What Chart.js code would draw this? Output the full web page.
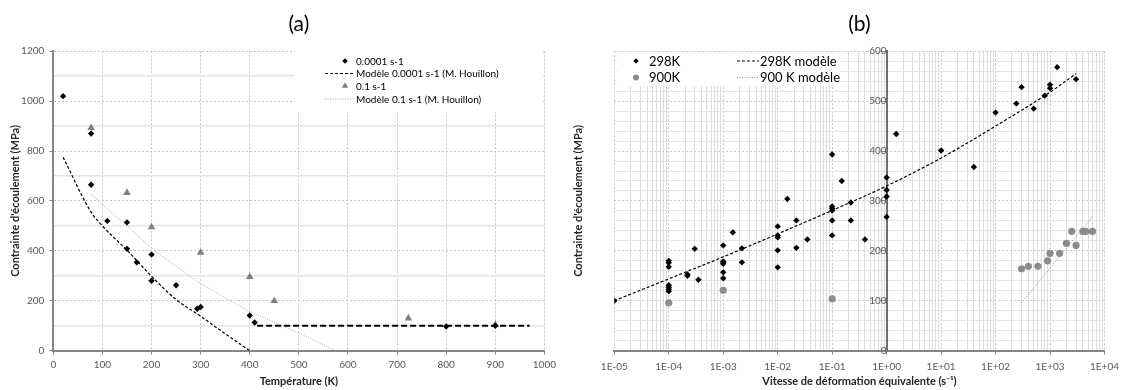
<!DOCTYPE html>
<html><head><meta charset="utf-8">
<script src="https://cdn.jsdelivr.net/npm/chart.js@4.4.1/dist/chart.umd.min.js"></script>
<style>
html,body{margin:0;padding:0;background:#fff;}
#wrap{position:relative;width:1125px;height:390px;overflow:hidden;}
#ca{position:absolute;left:0;top:0;width:560px;height:390px;}
#cb{position:absolute;left:560px;top:0;width:565px;height:390px;}
</style></head><body>
<div id="wrap"><div id="ca"><canvas id="a"></canvas></div><div id="cb"><canvas id="b"></canvas></div></div>
<script>
// ---------- Chart (a) data ----------
const tempLow = [20, 77, 77, 110, 150, 150, 170, 200, 200, 250, 293, 300, 400, 410, 800, 900];
const stressLow = [1020, 870, 665, 520, 514, 408, 354, 385, 280, 262, 168, 175, 141, 113, 97, 100];
const tempHigh = [77, 150, 200, 300, 400, 450, 723, 900];
const stressHigh = [893, 633, 495, 393, 296, 200, 130, 104];
const modelLowT = [20, 77, 100, 125, 150, 175, 200, 250, 300, 350, 400];
const modelLowS = [775, 555, 500, 450, 403, 350, 298, 205, 138, 68, 0];
const plateauT = [415, 970];
const plateauS = [100, 100];
const modelHighT = [76, 100, 150, 200, 250, 300, 350, 400, 450, 500, 575];
const modelHighS = [628, 586, 500, 412, 338, 270, 212, 158, 114, 70, 0];

// ---------- Chart (b) data ----------
const rate298 = [1e-5,
  1e-4, 1e-4, 1e-4, 1e-4, 1e-4, 1e-4, 1e-4, 2.2e-4, 2.2e-4, 3e-4, 3.5e-4,
  1e-3, 1e-3, 1e-3, 1e-3, 1e-3, 1e-3, 1.5e-3, 2.2e-3, 2.2e-3,
  1e-2, 1e-2, 1e-2, 1e-2, 1e-2, 1.5e-2, 2.2e-2, 2.2e-2, 3.5e-2,
  0.1, 0.1, 0.1, 0.1, 0.1, 0.1, 0.15, 0.22, 0.22, 0.4,
  1, 1, 1, 1, 1.5, 10, 40, 100, 240, 300, 500, 800, 1000, 1000, 1350, 3000];
const stress298 = [100,
  180, 176, 168, 131, 127, 123, 119, 153, 150, 204, 142,
  211, 179, 177, 174, 157, 145, 237, 205, 177,
  249, 231, 227, 201, 167, 304, 261, 206, 223,
  393, 289, 285, 281, 261, 231, 340, 297, 261, 223,
  347, 322, 309, 268, 434, 401, 368, 477, 495, 528, 485, 511, 533, 526, 568, 544];
const rate900 = [1e-4, 1e-3, 0.1, 300, 400, 600, 900, 1000, 1500, 2000, 2500, 3000, 4000, 4500, 6000];
const stress900 = [96, 121, 104, 164, 169, 169, 180, 195, 195, 215, 239, 211, 239, 239, 239];
const model298Rate = [1e-5, 1e-4, 1e-3, 1e-2, 1e-1, 1, 10, 100, 1000, 3000];
const model298S = [100, 144, 188, 234, 281, 330, 386, 450, 518, 555];
const model900Rate = [300, 6000];
const model900S = [96, 269];
const rateTickLabels = ['1E-05','1E-04','1E-03','1E-02','1E-01','1E+00','1E+01','1E+02','1E+03','1E+04'];

const pts = (xs, ys) => xs.map((x, i) => ({x: x, y: ys[i]}));

const FONT = 'Lato, "Open Sans", sans-serif';
const TICK = '#595959';
const GRID_MAJOR = '#c6c6c6';
const GRID_MINOR = '#e4e4e4';
const AXIS = '#868686';

// custom in-plot legend with white background
const boxLegend = {
  id: 'boxLegend',
  beforeDatasetsDraw(chart, args, o) {
    if (!o || !o.items) return;
    const ctx = chart.ctx;
    ctx.save();
    ctx.fillStyle = '#ffffff';
    ctx.fillRect(o.x, o.y, o.w, o.h);
    ctx.font = o.font;
    ctx.textBaseline = 'middle';
    ctx.textAlign = 'left';
    o.items.forEach(it => {
      const ds = chart.data.datasets[it.ds];
      if (ds.showLine) {
        ctx.save();
        ctx.strokeStyle = ds.borderColor;
        ctx.lineWidth = Math.min(ds.borderWidth, 1.3);
        ctx.setLineDash(ds.borderDash || []);
        ctx.beginPath();
        ctx.moveTo(it.l0, it.y);
        ctx.lineTo(it.l1, it.y);
        ctx.stroke();
        ctx.restore();
      } else {
        ctx.save();
        ctx.fillStyle = ds.backgroundColor;
        ctx.strokeStyle = ds.borderColor;
        Chart.helpers.drawPoint(ctx, {pointStyle: ds.pointStyle, radius: ds.pointRadius * 0.85, borderWidth: 0, rotation: 0}, it.m, it.y);
        ctx.restore();
      }
      ctx.fillStyle = '#000';
      ctx.fillText(ds.label, it.t, it.y + 0.5);
    });
    ctx.restore();
  }
};

// ---------- Chart (a) ----------
new Chart(document.getElementById('a'), {
  type: 'scatter',
  data: {
    datasets: [
      {label: '0.0001 s-1', data: pts(tempLow, stressLow), pointStyle: 'rectRot', pointRadius: 3.2,
        backgroundColor: '#000', borderColor: '#000', borderWidth: 0, showLine: false, order: 1},
      {label: 'Modèle 0.0001 s-1 (M. Houillon)', data: pts(modelLowT, modelLowS), showLine: true, pointRadius: 0,
        borderColor: '#000', borderWidth: 1.2, borderDash: [3, 2], cubicInterpolationMode: 'monotone', order: 3},
      {label: '0.1 s-1', data: pts(tempHigh, stressHigh), pointStyle: 'triangle', pointRadius: 4.4,
        backgroundColor: '#808080', borderColor: '#808080', borderWidth: 0, showLine: false, order: 2},
      {label: 'Modèle 0.1 s-1 (M. Houillon)', data: pts(modelHighT, modelHighS), showLine: true, pointRadius: 0,
        borderColor: '#a6a6a6', borderWidth: 1, borderDash: [1, 1.5], cubicInterpolationMode: 'monotone', order: 4},
      {label: 'plateau', data: pts(plateauT, plateauS), showLine: true, pointRadius: 0,
        borderColor: '#000', borderWidth: 2.2, borderDash: [6, 3], order: 0}
    ]
  },
  options: {
    responsive: true, maintainAspectRatio: false, animation: false,
    layout: {padding: {left: 0, right: 13, top: 0, bottom: 0}},
    plugins: {
      legend: {display: false},
      tooltip: {enabled: false},
      title: {display: true, text: '(a)', fullSize: false, color: '#000',
        font: {family: FONT, size: 21, weight: 'normal'}, padding: {top: 12, bottom: 14}},
      boxLegend: {x: 295, y: 51, w: 248, h: 61, font: '10px ' + FONT,
        items: [{ds: 0, m: 345, t: 356, y: 61},
                {ds: 1, l0: 325, l1: 355, t: 356, y: 73.5},
                {ds: 2, m: 345, t: 356, y: 86},
                {ds: 3, l0: 325, l1: 355, t: 356, y: 99}]}
    },
    scales: {
      x: {type: 'linear', min: 0, max: 1000,
        afterFit: s => { s.height = 39.3; },
        ticks: {stepSize: 100, color: TICK, font: {family: FONT, size: 10}, padding: 4, maxRotation: 0,
          callback: v => String(v)},
        grid: {color: GRID_MAJOR, lineWidth: 1, tickLength: 4, tickColor: AXIS},
        border: {display: true, color: AXIS, width: 2, dash: [2, 2]},
        title: {display: true, text: 'Température (K)', color: '#262626',
          font: {family: FONT, size: 11, weight: 'bold'}, padding: {top: 0, bottom: 2}}
      },
      y: {type: 'linear', min: 0, max: 1200,
        afterFit: s => { s.width = 53.3; },
        ticks: {stepSize: 100, autoSkip: false, color: TICK, font: {family: FONT, size: 10}, padding: 5,
          callback: v => (v % 200 === 0 ? String(v) : '')},
        grid: {
          color: c => (c.tick && c.tick.value % 200 !== 0 ? GRID_MINOR : GRID_MAJOR),
          lineWidth: c => (c.tick && c.tick.value % 200 !== 0 ? 1.5 : 1),
          tickLength: 4,
          tickColor: c => (c.tick && c.tick.value % 200 !== 0 ? 'rgba(0,0,0,0)' : AXIS)
        },
        border: {display: true, color: AXIS, width: 2,
          dash: c => (c.tick && c.tick.value % 200 !== 0 ? [] : [2, 2])},
        title: {display: true, text: "Contrainte d'écoulement (MPa)", color: '#262626',
          font: {family: FONT, size: 11, weight: 'bold'}, padding: {top: 8.5, bottom: 0}}
      }
    }
  },
  plugins: [boxLegend]
});

// ---------- Chart (b) ----------
new Chart(document.getElementById('b'), {
  type: 'scatter',
  data: {
    datasets: [
      {label: '298K', data: pts(rate298, stress298), pointStyle: 'rectRot', pointRadius: 3.2,
        backgroundColor: '#000', borderColor: '#000', borderWidth: 0, showLine: false, yAxisID: 'y', order: 1},
      {label: '900K', data: pts(rate900, stress900), pointStyle: 'circle', pointRadius: 3.6,
        backgroundColor: '#8c8c8c', borderColor: '#8c8c8c', borderWidth: 0, showLine: false, yAxisID: 'y', order: 2},
      {label: '298K modèle', data: pts(model298Rate, model298S), showLine: true, pointRadius: 0,
        borderColor: '#000', borderWidth: 1.2, borderDash: [3, 2], cubicInterpolationMode: 'monotone', yAxisID: 'y', order: 0},
      {label: '900 K modèle', data: pts(model900Rate, model900S), showLine: true, pointRadius: 0,
        borderColor: '#9a9a9a', borderWidth: 1, borderDash: [1, 1.5], yAxisID: 'y', order: 3}
    ]
  },
  options: {
    responsive: true, maintainAspectRatio: false, animation: false,
    layout: {padding: {left: 0, right: 15, top: 0, bottom: 0}},
    plugins: {
      legend: {display: false},
      tooltip: {enabled: false},
      title: {display: true, text: '(b)', fullSize: false, color: '#000',
        font: {family: FONT, size: 21, weight: 'normal'}, padding: {top: 12, bottom: 14}},
      boxLegend: {x: 57, y: 52, w: 224, h: 34, font: '13px ' + FONT,
        items: [{ds: 0, m: 76, t: 89, y: 61},
                {ds: 1, m: 76, t: 89, y: 77.5},
                {ds: 2, l0: 177, l1: 199, t: 200, y: 61},
                {ds: 3, l0: 177, l1: 199, t: 200, y: 77.5}]}
    },
    scales: {
      x: {type: 'logarithmic', min: 1e-5, max: 1e4,
        afterFit: s => { s.height = 39.3; },
        afterBuildTicks: s => {
          const t = [];
          for (let e = -5; e <= 4; e++) {
            for (let m = 1; m <= 9; m++) {
              if (e === 4 && m > 1) break;
              t.push({value: Number((m + 'e' + e)), major: m === 1});
            }
          }
          s.ticks = t;
        },
        ticks: {autoSkip: false, maxRotation: 0, color: TICK, font: {family: FONT, size: 10}, padding: 6,
          callback: function (v, i, ticks) {
            const t = ticks[i];
            if (!t || !t.major) return '';
            return rateTickLabels[Math.round(Math.log10(v)) + 5];
          }},
        grid: {
          color: c => (c.tick && c.tick.major ? GRID_MAJOR : '#dcdcdc'),
          lineWidth: 1, tickLength: 4,
          tickColor: c => (c.tick && c.tick.major ? AXIS : 'rgba(0,0,0,0)')
        },
        border: {display: true, color: AXIS, width: 2, dash: c => (c.tick && c.tick.major ? [2, 2] : [])},
        title: {display: true, text: 'Vitesse de déformation équivalente (s⁻¹)', color: '#262626',
          font: {family: FONT, size: 11, weight: 'bold'}, padding: {top: 0, bottom: 2}}
      },
      y: {type: 'linear', min: 0, max: 600, position: {x: 1},
        ticks: {stepSize: 20, autoSkip: false, color: TICK, font: {family: FONT, size: 10}, padding: 3,
          callback: v => (v % 100 === 0 ? String(v) : '')},
        grid: {
          color: c => (c.tick && c.tick.value % 100 !== 0 ? GRID_MINOR : GRID_MAJOR),
          lineWidth: 1, tickLength: 4,
          tickColor: c => (c.tick && c.tick.value % 100 !== 0 ? 'rgba(0,0,0,0)' : AXIS)
        },
        border: {display: true, color: '#6e6e6e', width: 2,
          dash: c => (c.tick && c.tick.value % 100 !== 0 ? [] : [2, 2])}
      },
      yT: {type: 'linear', position: 'left', min: 0, max: 1,
        afterFit: s => { s.width = 54.3; },
        ticks: {display: false}, grid: {display: false, drawTicks: false}, border: {display: false},
        title: {display: true, text: "Contrainte d'écoulement (MPa)", color: '#262626',
          font: {family: FONT, size: 11, weight: 'bold'}, padding: {top: 12, bottom: 0}}
      }
    }
  },
  plugins: [boxLegend]
});
</script>
</body></html>
